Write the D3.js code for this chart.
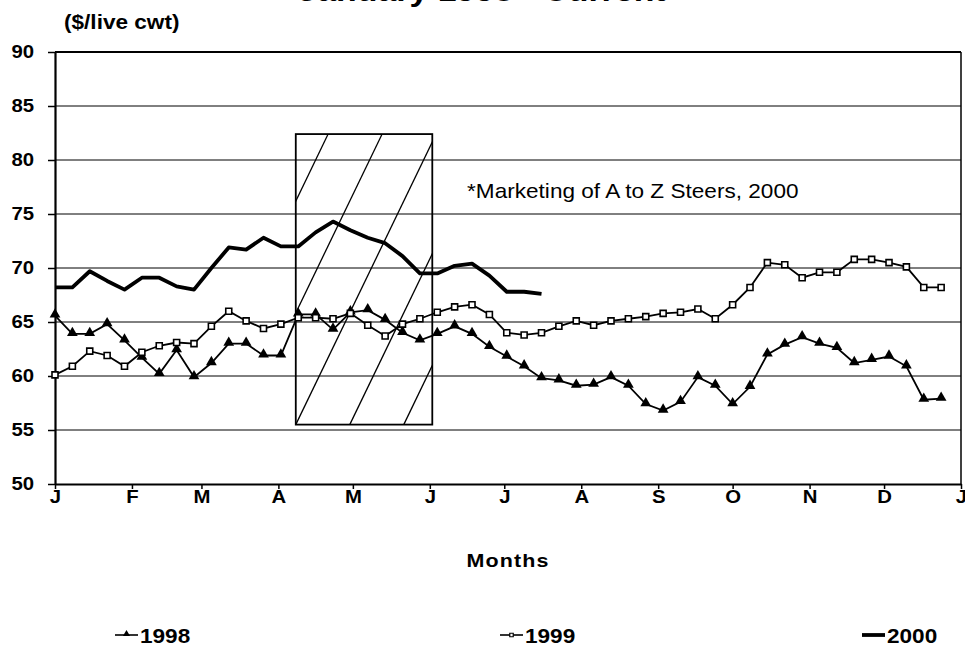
<!DOCTYPE html>
<html>
<head>
<meta charset="utf-8">
<script src="https://cdn.jsdelivr.net/npm/d3@7"></script>
<style>
  body { margin: 0; background: #fff; }
  text { font-family: "Liberation Sans", Arial, sans-serif; fill: #000; }
</style>
</head>
<body>
<div id="chart"></div>
<script>
// weekly prices, $/live cwt, week 1 = first week of January
const prices1998 = [65.6, 63.9, 63.9, 64.8, 63.3, 61.7, 60.2, 62.4, 59.9, 61.2, 63.0, 63.0, 61.9,
  61.9, 65.7, 65.7, 64.3, 65.9, 66.1, 65.2, 64.0, 63.3, 63.9, 64.6, 63.9, 62.7, 61.8, 60.9,
  59.8, 59.6, 59.1, 59.2, 59.9, 59.1, 57.4, 56.8, 57.6, 59.9, 59.1, 57.4, 59.0, 62.0, 62.9,
  63.6, 63.0, 62.6, 61.2, 61.5, 61.8, 60.9, 57.8, 57.9];
const prices1999 = [60.1, 60.9, 62.3, 61.9, 60.9, 62.2, 62.8, 63.1, 63.0, 64.6, 66.0, 65.1, 64.4,
  64.8, 65.4, 65.4, 65.3, 65.8, 64.7, 63.7, 64.8, 65.3, 65.9, 66.4, 66.6, 65.7, 64.0, 63.8,
  64.0, 64.6, 65.1, 64.7, 65.1, 65.3, 65.5, 65.8, 65.9, 66.2, 65.3, 66.6, 68.2, 70.5, 70.3,
  69.1, 69.6, 69.6, 70.8, 70.8, 70.5, 70.1, 68.2, 68.2];
const prices2000 = [68.2, 68.2, 69.7, 68.8, 68.0, 69.1, 69.1, 68.3, 68.0, 70.0, 71.9, 71.7, 72.8,
  72.0, 72.0, 73.3, 74.3, 73.5, 72.8, 72.3, 71.1, 69.5, 69.5, 70.2, 70.4, 69.3, 67.8, 67.8, 67.6];

const monthLabels = ["J", "F", "M", "A", "M", "J", "J", "A", "S", "O", "N", "D", "J"];
const yTicks = [50, 55, 60, 65, 70, 75, 80, 85, 90];
const years = ["1998", "1999", "2000"];

// marketing window (A to Z steers)
const boxDates = [new Date(1999, 3, 8), new Date(1999, 5, 2)];
const boxValues = [55.5, 82.4];
const noteText = "*Marketing of A to Z Steers, 2000";

const width = 965, height = 646;
const stretch = 1.13; // the original text is a bit wide

const svg = d3.select("#chart").append("svg")
  .attr("width", width)
  .attr("height", height);

let yearStart = new Date(1999, 0, 1);
let x = d3.scaleTime().domain([yearStart, new Date(2000, 0, 1)]).range([55, 961]);
let y = d3.scaleLinear().domain([50, 90]).range([484, 52]);

const weekDate = (d, i) => d3.timeDay.offset(yearStart, 7 * i);

function addText(x0, y0, str, size, weight) {
  return svg.append("text")
    .attr("transform", `translate(${x0},${y0}) scale(${stretch},1)`)
    .style("font-size", size + "px")
    .style("font-weight", weight || "bold")
    .text(str);
}

// title, cut off by the top edge
addText(482, 1, "January 1998 - Current", 30).attr("text-anchor", "middle");
addText(64, 29, "($/live cwt)", 20);

// gridlines
svg.append("g")
  .selectAll("line")
  .data(yTicks.filter(v => v > 50))
  .enter().append("line")
  .attr("x1", x.range()[0]).attr("x2", x.range()[1])
  .attr("y1", d => y(d)).attr("y2", d => y(d))
  .attr("stroke", "#000")
  .attr("stroke-width", d => d === 90 ? 2 : 1);

// right border
svg.append("line")
  .attr("x1", x.range()[1]).attr("x2", x.range()[1])
  .attr("y1", y(90)).attr("y2", y(50))
  .attr("stroke", "#000").attr("stroke-width", 1.5);

// axes
let yAxis = svg.append("g")
  .attr("transform", `translate(${x.range()[0]},0)`)
  .call(d3.axisLeft(y).tickValues(yTicks).tickSize(7).tickSizeOuter(0).tickPadding(11.5));
yAxis.select(".domain").attr("stroke-width", 2.2);
yAxis.selectAll(".tick line").attr("stroke-width", 1.5);
yAxis.selectAll("text")
  .attr("transform", `scale(${stretch},1)`)
  .style("font-size", "18px").style("font-weight", "bold")
  .attr("fill", "#000");

let monthStarts = d3.timeMonth.range(yearStart, d3.timeDay.offset(x.domain()[1], 1));
let xAxis = svg.append("g")
  .attr("transform", `translate(0,${y(50)})`)
  .call(d3.axisBottom(x).tickValues(monthStarts).tickSize(5).tickSizeOuter(0).tickPadding(1)
    .tickFormat((d, i) => monthLabels[i]));
xAxis.select(".domain").attr("stroke-width", 2.2);
xAxis.selectAll(".tick line").attr("stroke-width", 1.5);
xAxis.selectAll("text")
  .attr("transform", `scale(${stretch},1)`)
  .style("font-size", "18px").style("font-weight", "bold")
  .attr("fill", "#000");

addText(508, 567, "Months", 19).attr("text-anchor", "middle").style("letter-spacing", "1px");

// hatched marketing box
let bx0 = x(boxDates[0]), bx1 = x(boxDates[1]);
let by0 = y(boxValues[1]), by1 = y(boxValues[0]);
svg.append("clipPath").attr("id", "boxclip")
  .append("rect")
  .attr("x", bx0).attr("y", by0)
  .attr("width", bx1 - bx0).attr("height", by1 - by0);

let slope = 2.07, spacing = 54;
let hatch = svg.append("g").attr("clip-path", "url(#boxclip)");
hatch.selectAll("line")
  .data(d3.range(-2, 3))
  .enter().append("line")
  .attr("x1", k => bx0 + k * spacing)
  .attr("y1", by1)
  .attr("x2", k => bx0 + k * spacing + (by1 - by0) / slope)
  .attr("y2", by0)
  .attr("stroke", "#000")
  .attr("stroke-width", 1.3);

svg.append("rect")
  .attr("x", bx0).attr("y", by0)
  .attr("width", bx1 - bx0).attr("height", by1 - by0)
  .attr("fill", "none")
  .attr("stroke", "#000")
  .attr("stroke-width", 1.8);

addText(x(new Date(1999, 5, 16)), y(76.5), noteText, 20, "normal");

// series
let line = d3.line()
  .x((d, i) => x(weekDate(d, i)))
  .y(d => y(d));

svg.append("path").datum(prices1998)
  .attr("d", line).attr("fill", "none")
  .attr("stroke", "#000").attr("stroke-width", 1.8);
svg.append("path").datum(prices1999)
  .attr("d", line).attr("fill", "none")
  .attr("stroke", "#000").attr("stroke-width", 1.8);
svg.append("path").datum(prices2000)
  .attr("d", line).attr("fill", "none")
  .attr("stroke", "#000").attr("stroke-width", 3.8)
  .attr("stroke-linejoin", "round");

let tri = d3.symbol().type(d3.symbolTriangle).size(50);
let sq = d3.symbol().type(d3.symbolSquare).size(36);

svg.append("g").selectAll("path")
  .data(prices1998)
  .enter().append("path")
  .attr("d", tri)
  .attr("transform", (d, i) => `translate(${x(weekDate(d, i))},${y(d) - 1})`)
  .attr("fill", "#000");

svg.append("g").selectAll("path")
  .data(prices1999)
  .enter().append("path")
  .attr("d", sq)
  .attr("transform", (d, i) => `translate(${x(weekDate(d, i))},${y(d)})`)
  .attr("fill", "#fff")
  .attr("stroke", "#000").attr("stroke-width", 1.6);

// legend
let legendX = [115, 500, 862];
let legend = svg.append("g").selectAll("g")
  .data(years)
  .enter().append("g")
  .attr("transform", (d, i) => `translate(${legendX[i]},635)`);
legend.append("line")
  .attr("x1", 0).attr("x2", 23)
  .attr("stroke", "#000")
  .attr("stroke-width", (d, i) => i === 2 ? 3.8 : 1.6);
legend.filter((d, i) => i === 0).append("path")
  .attr("d", d3.symbol().type(d3.symbolTriangle).size(22))
  .attr("transform", "translate(11.5,-1)");
legend.filter((d, i) => i === 1).append("path")
  .attr("d", d3.symbol().type(d3.symbolSquare).size(12))
  .attr("transform", "translate(11.5,0)")
  .attr("fill", "#fff").attr("stroke", "#000").attr("stroke-width", 1.2);
legend.append("text")
  .attr("transform", `translate(25,7.5) scale(${stretch},1)`)
  .style("font-size", "20px").style("font-weight", "bold")
  .text(d => d);
</script>
</body>
</html>
